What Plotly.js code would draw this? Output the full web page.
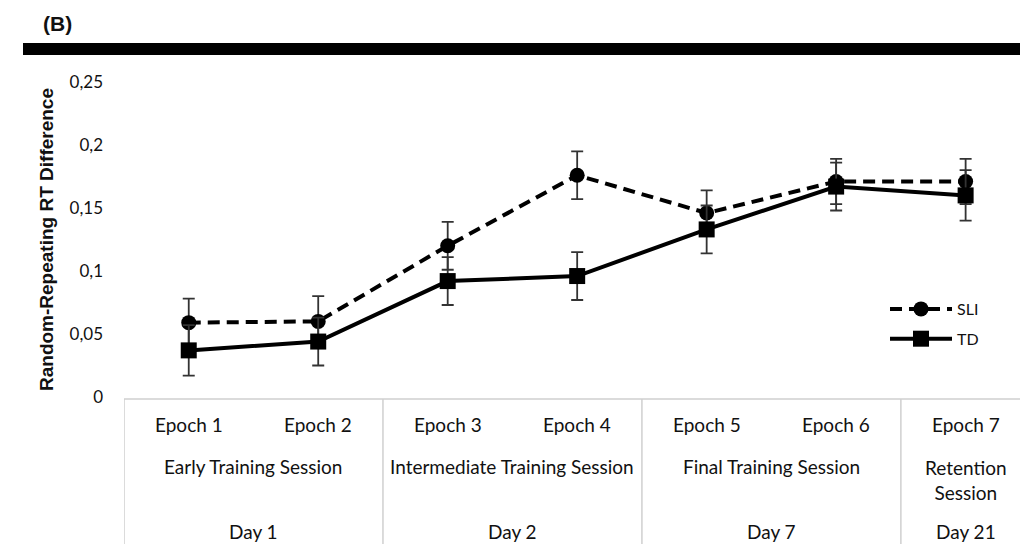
<!DOCTYPE html>
<html>
<head>
<meta charset="utf-8">
<script src="https://cdn.plot.ly/plotly-3.0.1.min.js"></script>
<style>html,body{margin:0;padding:0;background:#fff;}#chart{width:1020px;height:544px;}</style>
</head>
<body>
<div id="chart"></div>
<script>
// ---- data ----
const epochs = ["Epoch 1", "Epoch 2", "Epoch 3", "Epoch 4", "Epoch 5", "Epoch 6", "Epoch 7"];
const sliValues = [0.059, 0.060, 0.120, 0.176, 0.146, 0.171, 0.171];
const sliErrors = [0.019, 0.020, 0.019, 0.019, 0.018, 0.018, 0.018];
const tdValues = [0.037, 0.044, 0.092, 0.096, 0.133, 0.167, 0.160];
const tdErrors = [0.020, 0.019, 0.019, 0.019, 0.019, 0.019, 0.020];
const sessionNames = ["Early Training Session", "Intermediate Training Session", "Final Training Session", "Retention<br>Session"];
const sessionSizes = [2, 2, 2, 1];
const dayNames = ["Day 1", "Day 2", "Day 7", "Day 21"];
const seriesNames = ["SLI", "TD"];
const yTicks = [0, 0.05, 0.1, 0.15, 0.2, 0.25];

// ---- layout helpers (pixel -> paper) ----
const W = 1020, H = 544;
const mL = 124, mR = 0, mT = 82, mB = 147;
const plotW = W - mL - mR, plotH = H - mT - mB;
const px = x => (x - mL) / plotW;
const py = y => (H - mB - y) / plotH;

const tableFont = {family: "Lato, 'Open Sans', sans-serif", size: 19, color: "#111"};

const traces = [
  {
    x: epochs, y: sliValues, name: seriesNames[0], type: "scatter", mode: "lines+markers",
    legendgroup: "a",
    line: {color: "#000", width: 4, dash: "12px,7px"},
    marker: {symbol: "circle", size: 15, color: "#000"},
    error_y: {type: "data", array: sliErrors, visible: true, color: "#333", thickness: 1.8, width: 6}
  },
  {
    x: epochs, y: tdValues, name: seriesNames[1], type: "scatter", mode: "lines+markers",
    legendgroup: "b",
    line: {color: "#000", width: 4},
    marker: {symbol: "square", size: 16, color: "#000"},
    error_y: {type: "data", array: tdErrors, visible: true, color: "#333", thickness: 1.8, width: 6}
  }
];

// table structure
const shapes = [];
const annotations = [];
let start = -0.5;
const boundaries = [start];
sessionSizes.forEach((n, i) => {
  const mid = start + n / 2;
  annotations.push({x: mid, xref: "x", y: py(466), yref: "paper", text: sessionNames[i],
    showarrow: false, font: tableFont, xanchor: "center", yanchor: "middle"});
  annotations.push({x: mid, xref: "x", y: py(531), yref: "paper", text: dayNames[i],
    showarrow: false, font: tableFont, xanchor: "center", yanchor: "middle"});
  start += n;
  boundaries.push(start);
});
// retention label spans two lines
annotations[6].y = py(480);

epochs.forEach((e, i) => {
  annotations.push({x: i, xref: "x", y: py(425), yref: "paper", text: e,
    showarrow: false, font: tableFont, xanchor: "center", yanchor: "middle"});
});

boundaries.slice(0, -1).forEach(b => {
  shapes.push({type: "line", xref: "x", yref: "paper", x0: b, x1: b, y0: py(399), y1: py(H + 5),
    line: {color: "#cfcfcf", width: 1.5}});
});
shapes.push({type: "line", xref: "paper", yref: "paper", x0: 0, x1: 1, y0: py(399), y1: py(399),
  line: {color: "#cfcfcf", width: 1.5}});

// top black rule
shapes.push({type: "rect", xref: "paper", yref: "paper", x0: px(23), x1: 1.01, y0: py(55), y1: py(43),
  fillcolor: "#000", line: {width: 0}});

annotations.push({x: px(57), y: py(24), xref: "paper", yref: "paper", text: "<b>(B)</b>",
  showarrow: false, font: {family: "'Liberation Sans', Arial, sans-serif", size: 21, color: "#111"},
  xanchor: "center", yanchor: "middle"});

const layout = {
  width: W, height: H,
  margin: {l: mL, r: mR, t: mT, b: mB, pad: 0},
  paper_bgcolor: "#fff", plot_bgcolor: "#fff",
  separators: ",.",
  showlegend: true,
  legend: {x: px(885), y: py(292), xanchor: "left", yanchor: "top", bgcolor: "rgba(0,0,0,0)",
    traceorder: "grouped", tracegroupgap: 6, itemwidth: 62,
    font: {family: "Lato, 'Open Sans', sans-serif", size: 16, color: "#111"}},
  xaxis: {
    type: "category", range: [-0.5, 6.42], showticklabels: false, showgrid: false,
    zeroline: false, showline: false, ticks: "", fixedrange: true
  },
  yaxis: {
    range: [0, 0.25], tickvals: yTicks, showgrid: false, zeroline: false, showline: false,
    ticks: "", ticklabelstandoff: 20,
    tickfont: {family: "Lato, 'Open Sans', sans-serif", size: 17, color: "#111"},
    title: {text: "<b>Random-Repeating RT Difference</b>", standoff: 10,
      font: {family: "'Liberation Sans', Arial, sans-serif", size: 19, color: "#111"}}
  },
  shapes: shapes,
  annotations: annotations
};

Plotly.newPlot("chart", traces, layout, {displayModeBar: false, staticPlot: true});
</script>
</body>
</html>
